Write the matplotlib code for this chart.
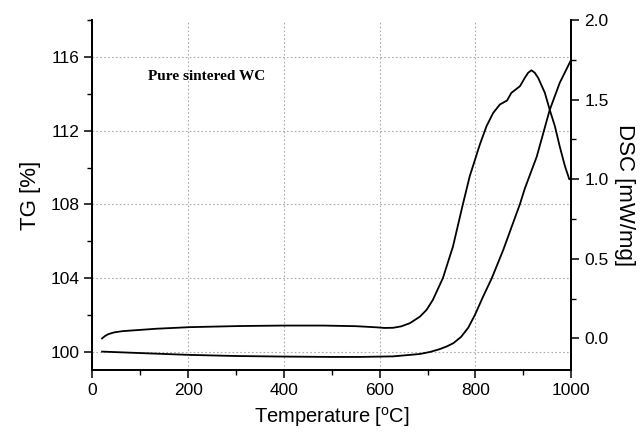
import numpy as np
import matplotlib.pyplot as plt
from matplotlib.ticker import MultipleLocator

plt.rcParams['font.family'] = ['Liberation Sans', 'DejaVu Sans']

# TG curve (left axis)
tg_temp = [20, 100, 203, 300, 398, 500, 558, 628, 684, 705, 725, 740, 754,
           770, 785, 799, 816, 834, 858, 893, 903, 928, 955, 976, 1000]
tg_val = [100.0, 99.92, 99.82, 99.76, 99.73, 99.71, 99.71, 99.74, 99.87,
          99.98, 100.13, 100.28, 100.46, 100.8, 101.3, 102.0, 102.99, 103.98,
          105.52, 108.02, 108.85, 110.59, 113.12, 114.6, 115.86]

# DSC curve (right axis)
dsc_temp = [20, 26, 33, 45, 63, 133, 203, 307, 398, 482, 551, 593, 610, 628,
            645, 663, 684, 698, 711, 732, 753, 774, 788, 809, 823, 837, 851,
            866, 875, 893, 903, 910, 917, 924, 931, 945, 955, 966, 976, 987,
            996, 1000]
dsc_val = [0.0, 0.015, 0.027, 0.038, 0.046, 0.061, 0.071, 0.078, 0.081,
           0.081, 0.077, 0.070, 0.066, 0.067, 0.076, 0.096, 0.137, 0.18,
           0.242, 0.379, 0.577, 0.846, 1.018, 1.216, 1.332, 1.416, 1.469,
           1.494, 1.542, 1.584, 1.636, 1.668, 1.684, 1.668, 1.636, 1.542,
           1.437, 1.332, 1.206, 1.081, 1.0, 1.0]

fig = plt.figure(figsize=(6.4, 4.33), dpi=100)
ax = fig.add_axes([0.1445, 0.1455, 0.748, 0.8085])
ax2 = ax.twinx()

ax.plot(tg_temp, tg_val, color='black', lw=1.3)
ax2.plot(dsc_temp, dsc_val, color='black', lw=1.3)

ax.set_xlim(0, 1000)
ax.set_ylim(99.0, 118.02)
ax2.set_ylim(-0.198, 2.0)

ax.xaxis.set_major_locator(MultipleLocator(200))
ax.xaxis.set_minor_locator(MultipleLocator(100))
ax.yaxis.set_major_locator(MultipleLocator(4))
ax.yaxis.set_minor_locator(MultipleLocator(2))
ax2.yaxis.set_major_locator(MultipleLocator(0.5))
ax2.yaxis.set_minor_locator(MultipleLocator(0.25))
ax2.yaxis.set_major_formatter(plt.FormatStrFormatter('%.1f'))

ax.grid(True, which='major', color='#aaaaaa', linestyle=(0, (1.5, 2)),
        linewidth=0.8)

for a in (ax, ax2):
    a.spines['top'].set_visible(False)
    for s in a.spines.values():
        s.set_linewidth(1.3)
    a.tick_params(which='major', direction='out', length=6, width=1.1,
                  labelsize=12.5)
    a.tick_params(which='minor', direction='out', length=3.5, width=1.0)

ax.set_xlabel('Temperature [$^{\\mathregular{o}}$C]', fontsize=14.5, labelpad=5)
ax.set_ylabel('TG [%]', fontsize=16, labelpad=7)
ax2.set_ylabel('DSC [mW/mg]', fontsize=16, rotation=-90, labelpad=19)

ax.text(115, 114.75, 'Pure sintered WC', fontsize=11, fontweight='bold',
        family=['Liberation Serif', 'DejaVu Serif'])

fig.savefig('out.png', dpi=100)
